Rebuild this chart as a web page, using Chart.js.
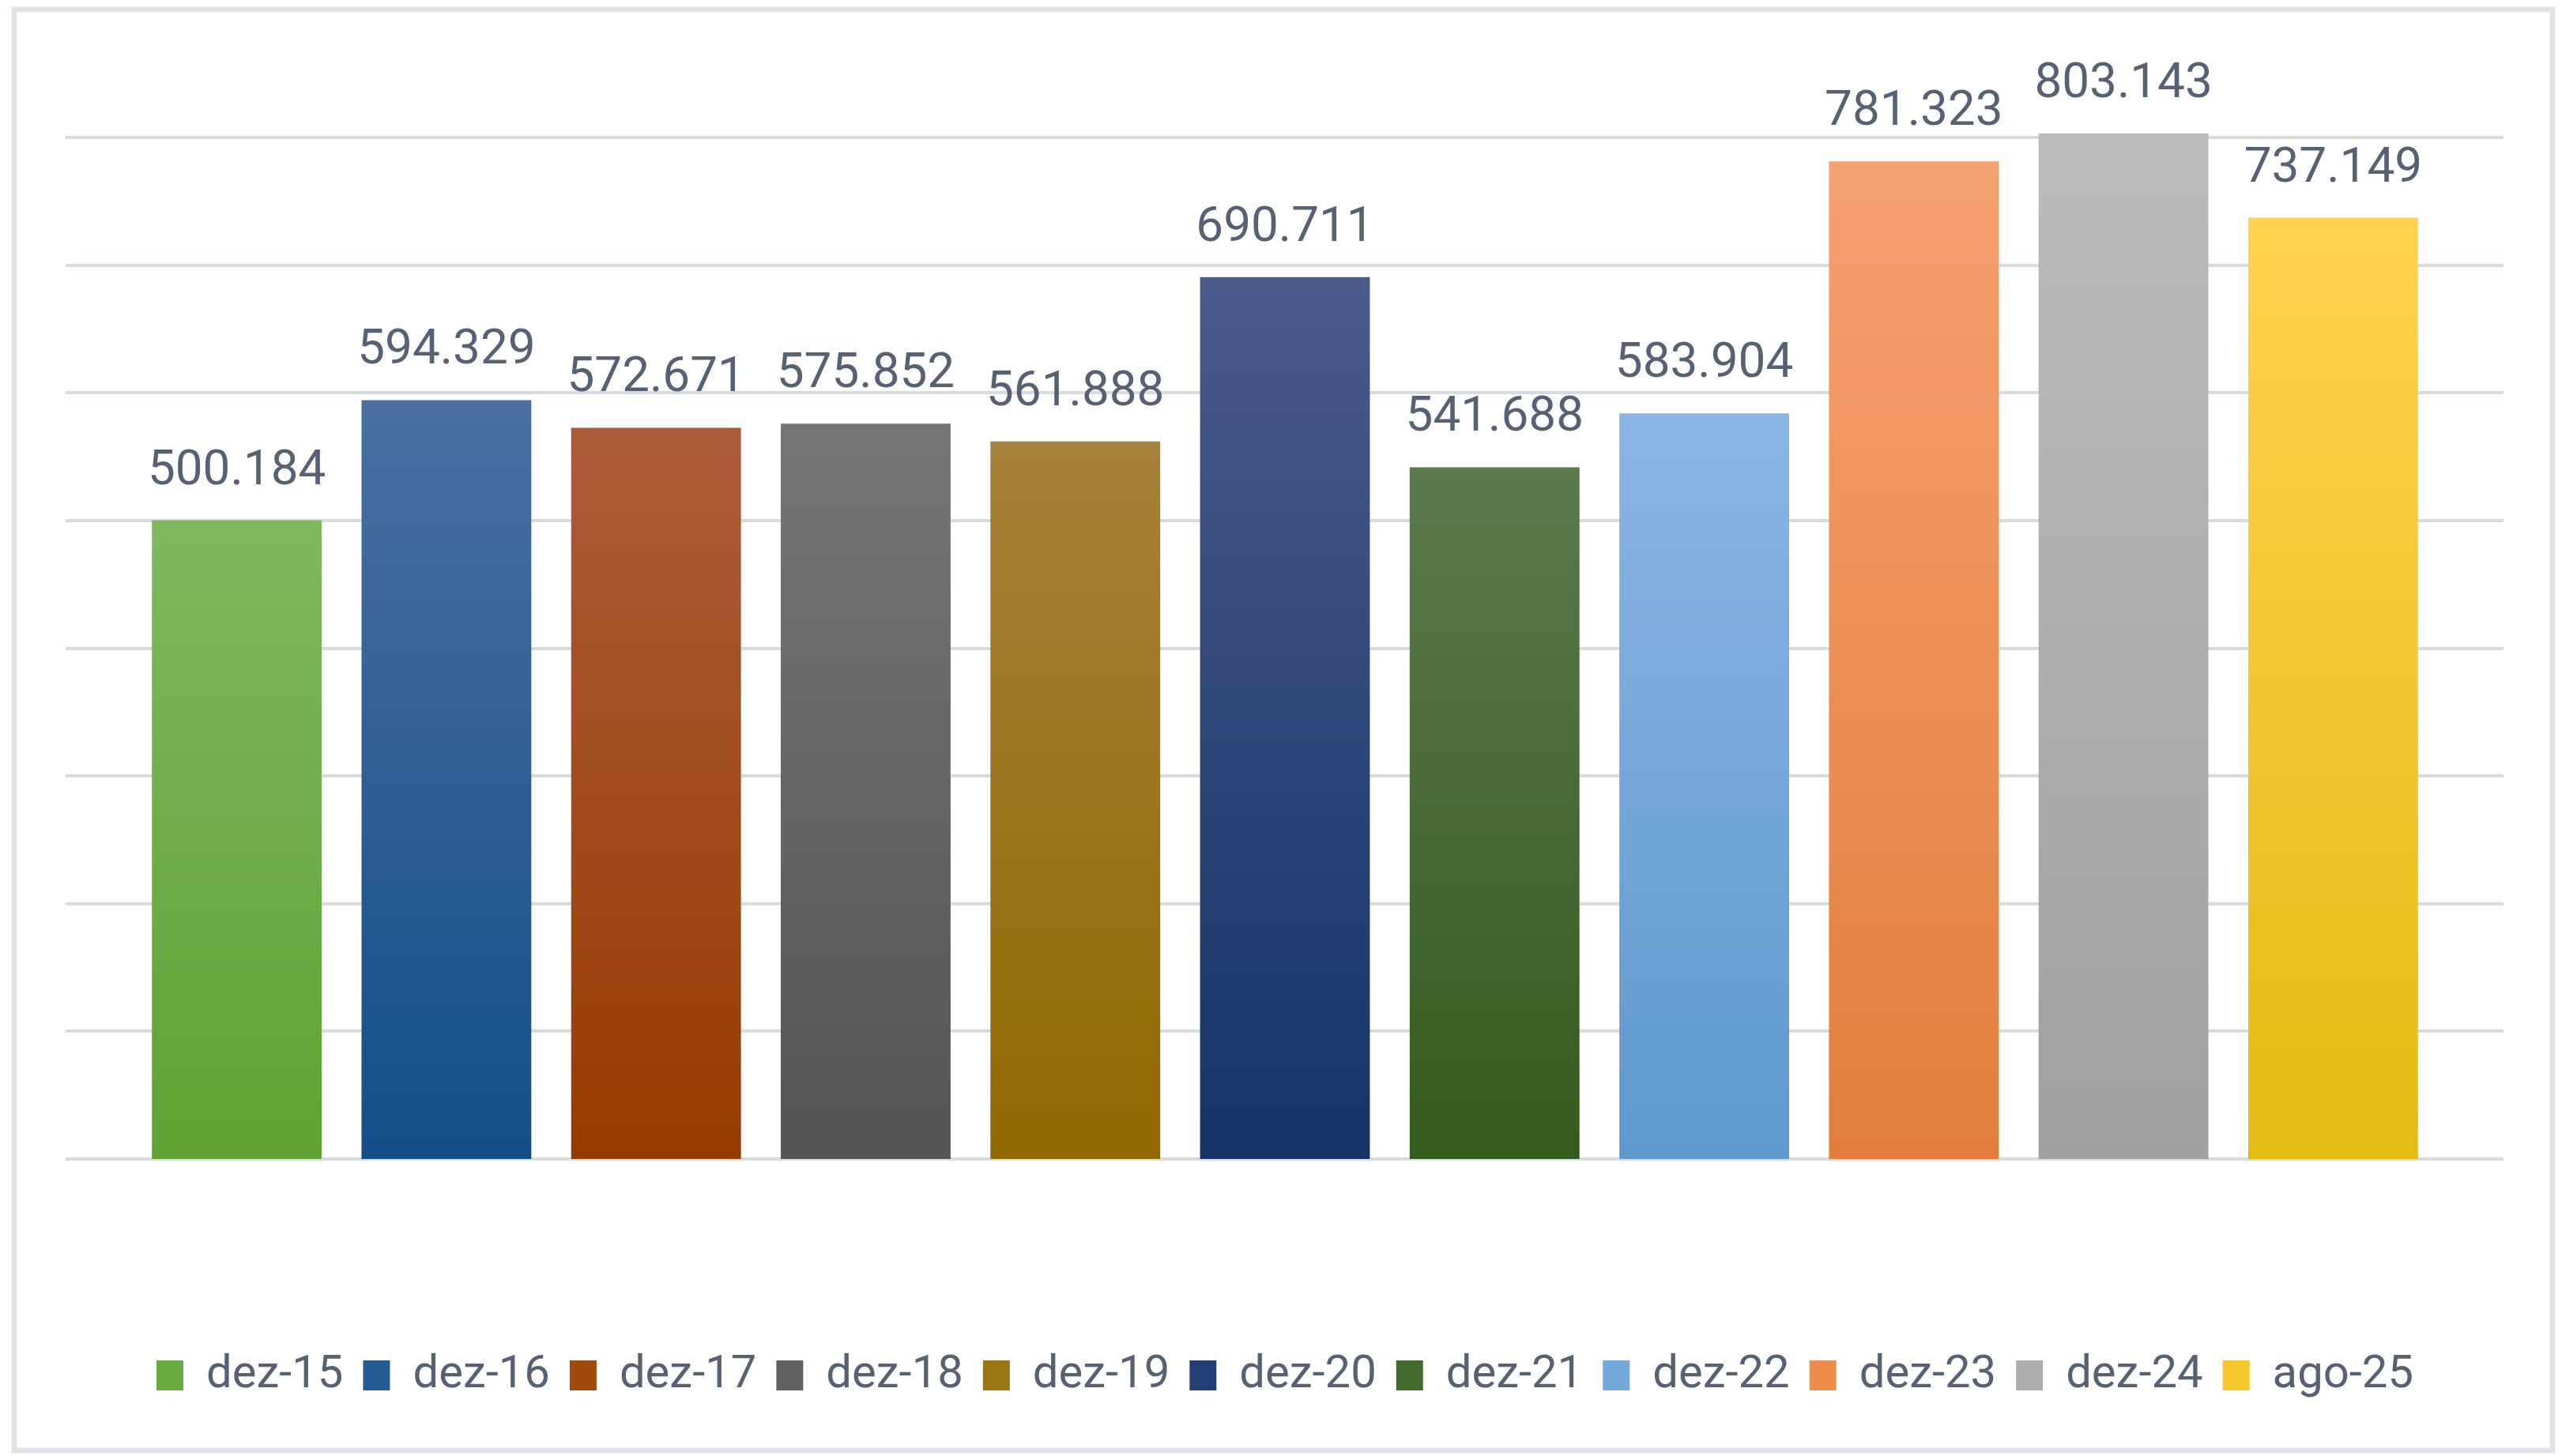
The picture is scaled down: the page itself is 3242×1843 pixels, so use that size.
<!DOCTYPE html>
<html>
<head>
<meta charset="utf-8">
<script src="https://cdn.jsdelivr.net/npm/chart.js@4.4.1/dist/chart.umd.min.js"></script>
<style>
html,body{margin:0;padding:0;background:#ffffff;}
#wrap{position:absolute;left:0;top:0;width:3242px;height:1843px;}
</style>
</head>
<body>
<div id="wrap"><canvas id="c" width="3242" height="1843"></canvas></div>
<script>
const categories = ['dez-15','dez-16','dez-17','dez-18','dez-19','dez-20','dez-21','dez-22','dez-23','dez-24','ago-25'];
const values = [500184, 594329, 572671, 575852, 561888, 690711, 541688, 583904, 781323, 803143, 737149];
const topColors = ['#80b85e','#4a6fa0','#ad5c3a','#757575','#a7803a','#4a5a8c','#5a7a4d','#8ab5e2','#f5a070','#bbbbbb','#ffd24f'];
const bottomColors = ['#60a233','#144e88','#963b00','#545454','#906900','#153367','#345b1e','#5f99ce','#e37e3c','#a0a0a0','#e3bb12'];
const legendColors = ['#6aab40','#235c92','#a04a10','#606060','#9c7514','#223e74','#426a2c','#74a8da','#ee8c4c','#adadad','#f4c82a'];
const yTicks = [0,100000,200000,300000,400000,500000,600000,700000,800000];

const FONT = 'Roboto, "Open Sans", sans-serif';
const TEXT_COLOR = '#566173';

function fmt(v){ return String(v).replace(/\B(?=(\d{3})+(?!\d))/g, '.'); }

const frame = {
  id:'frame',
  beforeDraw(chart){
    const ctx = chart.ctx;
    ctx.save();
    ctx.fillStyle = '#ffffff';
    ctx.fillRect(0,0,chart.width,chart.height);
    ctx.strokeStyle = '#dfe3e8';
    ctx.lineWidth = 7;
    ctx.strokeRect(18,12,3230-18,1836-12);
    ctx.restore();
  }
};

const grid = {
  id:'extgrid',
  beforeDatasetsDraw(chart){
    const ctx = chart.ctx, y = chart.scales.y, a = chart.chartArea;
    ctx.save();
    ctx.strokeStyle = '#d6dbe1';
    ctx.lineWidth = 4;
    yTicks.forEach(t => {
      const py = Math.round(y.getPixelForValue(t));
      ctx.beginPath();
      ctx.moveTo(a.left - 84, py);
      ctx.lineTo(a.right + 83, py);
      ctx.stroke();
    });
    ctx.restore();
  }
};

const labelsPlugin = {
  id:'vlabels',
  afterDatasetsDraw(chart){
    const ctx = chart.ctx;
    ctx.save();
    ctx.font = '62px ' + FONT;
    ctx.fillStyle = TEXT_COLOR;
    ctx.textAlign = 'center';
    ctx.textBaseline = 'alphabetic';
    chart.data.datasets.forEach((ds, i) => {
      const el = chart.getDatasetMeta(i).data[0];
      if (!el) return;
      ctx.fillText(fmt(values[i]), el.x, el.y - 46);
    });
    ctx.restore();
  }
};

function barGradient(i){
  return (context) => {
    const chart = context.chart;
    const ys = chart.scales.y;
    if (!ys || !chart.chartArea) return legendColors[i];
    const top = ys.getPixelForValue(values[i]);
    const bottom = ys.getPixelForValue(0);
    const g = chart.ctx.createLinearGradient(0, top, 0, bottom);
    g.addColorStop(0, topColors[i]);
    g.addColorStop(1, bottomColors[i]);
    return g;
  };
}

const datasets = categories.map((c, i) => ({
  label: c,
  data: [{x: c, y: values[i]}],
  backgroundColor: barGradient(i),
  borderWidth: 0,
  grouped: false,
  barPercentage: 0.81,
  categoryPercentage: 1,
  clip: false
}));

new Chart(document.getElementById('c'), {
  type: 'bar',
  data: { labels: categories, datasets },
  options: {
    responsive: false,
    animation: false,
    devicePixelRatio: 1,
    layout: { padding: { top: 174, left: 167, right: 157, bottom: 63 } },
    scales: {
      x: {
        type: 'category',
        display: true,
        grid: { display: false },
        border: { display: false },
        ticks: { display: false },
        afterFit(s){ s.height = 220; }
      },
      y: {
        display: false,
        min: 0,
        max: 800000,
        ticks: { stepSize: 100000 }
      }
    },
    plugins: {
      tooltip: { enabled: false },
      legend: {
        display: true,
        position: 'bottom',
        labels: {
          font: { family: FONT, size: 58 },
          color: TEXT_COLOR,
          boxWidth: 34,
          boxHeight: 38,
          padding: 25,
          generateLabels(chart){
            return chart.data.datasets.map((ds, i) => ({
              text: ds.label,
              fillStyle: legendColors[i],
              strokeStyle: legendColors[i],
              lineWidth: 0,
              fontColor: TEXT_COLOR,
              hidden: false,
              datasetIndex: i
            }));
          }
        }
      }
    }
  },
  plugins: [frame, grid, labelsPlugin]
});
</script>
</body>
</html>
